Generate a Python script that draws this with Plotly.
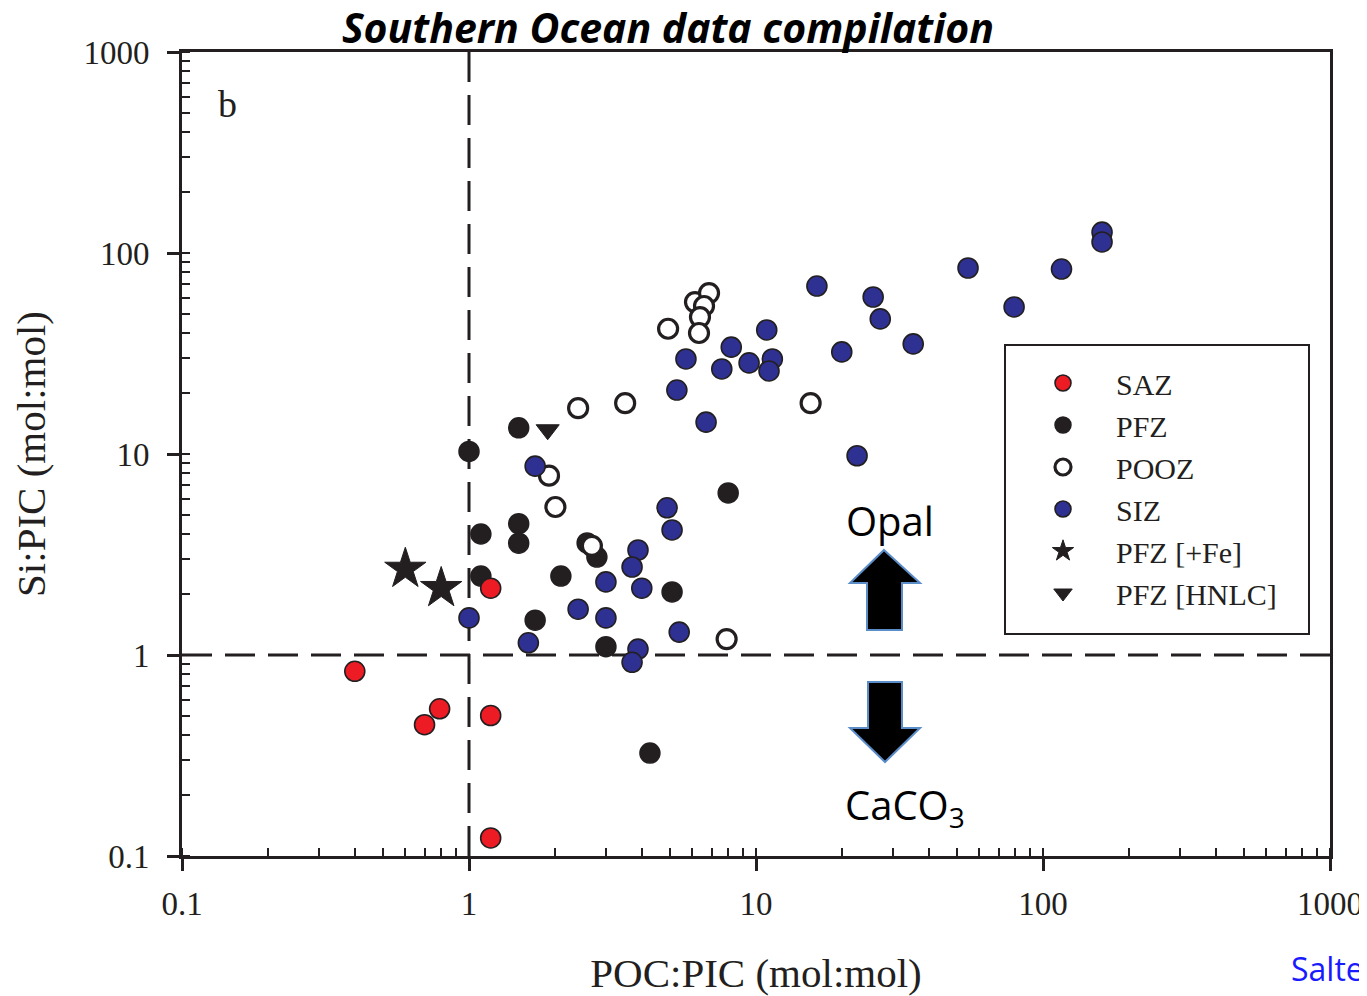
import plotly.graph_objects as go

# ---------------- data ----------------
saz_x = [0.40, 0.70, 0.79, 1.19, 1.19, 1.19]
saz_y = [0.83, 0.45, 0.54, 0.50, 0.123, 2.15]

pfz_x = [1.0, 1.49, 1.10, 1.49, 1.49, 1.10, 1.70, 2.09, 2.58, 2.79, 3.0, 5.1, 4.27, 8.0]
pfz_y = [10.3, 13.5, 4.0, 4.5, 3.6, 2.47, 1.49, 2.47, 3.61, 3.07, 1.10, 2.06, 0.325, 6.4]

pooz_x = [2.40, 3.5, 1.90, 2.0, 2.68, 7.9, 4.94, 6.13, 6.86, 6.59, 6.38, 6.33, 15.5]
pooz_y = [16.9, 17.9, 7.8, 5.45, 3.49, 1.20, 42.0, 57.0, 63.2, 54.5, 48.0, 40.0, 17.9]

siz_x = [5.3, 6.7, 1.70, 4.9, 5.1, 3.88, 3.70, 3.0, 4.0, 2.40, 3.0, 1.0, 1.61, 5.4,
         3.88, 3.70, 5.7, 8.2, 7.6, 9.46, 10.9, 11.4, 11.1, 16.3, 19.9, 25.6, 27.1,
         35.3, 54.8, 79.3, 22.5, 160.6, 160.6, 116.0]
siz_y = [20.8, 14.4, 8.7, 5.4, 4.19, 3.33, 2.74, 2.31, 2.15, 1.69, 1.53, 1.53, 1.15, 1.30,
         1.07, 0.92, 29.7, 34.0, 26.5, 28.4, 41.4, 29.7, 25.9, 68.5, 32.2, 60.4, 47.0,
         35.3, 84.2, 53.9, 9.8, 127.0, 113.5, 83.2]

fe_x = [0.60, 0.80]
fe_y = [2.68, 2.15]

hnlc_x = [1.88]
hnlc_y = [13.2]

tick_vals = [0.1, 1, 10, 100, 1000]
tick_text = ["0.1", "1", "10", "100", "1000"]

threshold_x = 1
threshold_y = 1

# ---------------- geometry ----------------
serif = "Liberation Serif"
sans = "Open Sans"
OFF = 8                      # page body margin
W, H = 1367 - OFF, 996 - OFF
PL, PR, PT, PB = 182, 1330, 52, 856   # plot area in window pixels
L, T = PL - OFF, PT - OFF
R, B = W - (PR - OFF), H - (PB - OFF)
pw, ph = PR - PL, PB - PT


def xp(px):
    return (px - PL) / pw


def yp(py):
    return (PB - py) / ph


fig = go.Figure()

fig.add_trace(go.Scatter(x=pfz_x, y=pfz_y, mode="markers", name="PFZ", legendrank=2,
                         legendgroup="b",
                         marker=dict(size=20, color="#231F20", line=dict(color="#231F20", width=1.5))))
fig.add_trace(go.Scatter(x=pooz_x, y=pooz_y, mode="markers", name="POOZ", legendrank=3,
                         legendgroup="c",
                         marker=dict(size=19, color="white", line=dict(color="#231F20", width=3.2))))
fig.add_trace(go.Scatter(x=siz_x, y=siz_y, mode="markers", name="SIZ", legendrank=4,
                         legendgroup="d",
                         marker=dict(size=20, color="#2E3192", line=dict(color="#231F20", width=1.6))))
fig.add_trace(go.Scatter(x=saz_x, y=saz_y, mode="markers", name="SAZ", legendrank=1,
                         legendgroup="a",
                         marker=dict(size=20, color="#ED1C24", line=dict(color="#231F20", width=1.6))))
fig.add_trace(go.Scatter(x=fe_x, y=fe_y, mode="markers", name="PFZ [+Fe]", legendrank=5,
                         legendgroup="e",
                         marker=dict(size=31, symbol="star", color="#231F20",
                                     line=dict(color="#231F20", width=1))))
fig.add_trace(go.Scatter(x=hnlc_x, y=hnlc_y, mode="markers", name="PFZ [HNLC]", legendrank=6,
                         legendgroup="f",
                         marker=dict(size=20, symbol="triangle-down", color="#231F20",
                                     line=dict(color="#231F20", width=1))))

axis_common = dict(
    type="log",
    range=[-1, 3],
    showgrid=False,
    zeroline=False,
    showline=True,
    linewidth=3,
    linecolor="#231F20",
    mirror=True,
    ticks="outside",
    ticklen=12,
    tickwidth=2.5,
    tickcolor="#231F20",
    tickmode="array",
    tickvals=tick_vals,
    ticktext=tick_text,
    tickfont=dict(family=serif, size=33, color="#231F20"),
    minor=dict(ticks="inside", ticklen=8, tickwidth=2, tickcolor="#231F20", dtick="D1",
               showgrid=False),
)

fig.update_xaxes(**axis_common, ticklabelstandoff=4,
                 title=dict(text="POC:PIC (mol:mol)", standoff=40,
                            font=dict(family=serif, size=41, color="#231F20")))
fig.update_yaxes(**axis_common, ticklabelstandoff=11,
                 title=dict(text="Si:PIC (mol:mol)", standoff=35,
                            font=dict(family=serif, size=41, color="#231F20")))

dash = "30px,13px"
fig.add_shape(type="line", xref="x", yref="paper", x0=threshold_x, x1=threshold_x, y0=0, y1=1,
              line=dict(color="#231F20", width=3, dash=dash), layer="below")
fig.add_shape(type="line", xref="paper", yref="y", x0=0, x1=1, y0=threshold_y, y1=threshold_y,
              line=dict(color="#231F20", width=3, dash=dash), layer="below")

# legend frame
fig.add_shape(type="rect", xref="paper", yref="paper",
              x0=xp(1005), x1=xp(1309), y0=yp(634), y1=yp(345),
              line=dict(color="#231F20", width=2), fillcolor="white", layer="below")


# block arrows (paper coordinates)
def pts(coords):
    return "M " + " L ".join(f"{xp(a):.5f},{yp(b):.5f}" for a, b in coords) + " Z"


up_arrow = [(884, 550), (920, 583), (902, 583), (902, 630), (867, 630), (867, 583), (850, 583)]
down_arrow = [(868, 682), (902, 682), (902, 728), (920, 728), (885, 762), (850, 728), (868, 728)]
for arr in (up_arrow, down_arrow):
    fig.add_shape(type="path", xref="paper", yref="paper", path=pts(arr),
                  fillcolor="black", line=dict(color="#5B8DC9", width=2))


def note(px, py, text, font, xanchor="center"):
    fig.add_annotation(xref="paper", yref="paper", x=xp(px), y=yp(py), text=text,
                       xanchor=xanchor, yanchor="middle", showarrow=False, font=font)


note(890, 520, "Opal", dict(family=sans, size=40, color="black"))
note(905, 806, "CaCO<sub>3</sub>", dict(family=sans, size=40, color="black"))
note(227, 104, "b", dict(family=serif, size=38, color="#231F20"))
note(1289, 968, "Salte", dict(family=sans, size=32, color="#1A1AFF"), xanchor="left")

fig.update_layout(
    width=W, height=H,
    margin=dict(l=L, r=R, t=T, b=B, autoexpand=False),
    paper_bgcolor="white",
    plot_bgcolor="white",
    title=dict(text="<b><i>Southern Ocean data compilation</i></b>",
               x=(668 - OFF) / W, xanchor="center", y=1 - (29 - OFF) / H, yanchor="middle",
               font=dict(family=sans, size=41, color="black")),
    legend=dict(x=xp(1010), y=yp(357), xanchor="left", yanchor="top",
                bgcolor="rgba(0,0,0,0)", borderwidth=0,
                font=dict(family=serif, size=30, color="#231F20"),
                itemwidth=96, tracegroupgap=0, itemsizing="trace"),
    showlegend=True,
)

fig.write_html("out.html")
